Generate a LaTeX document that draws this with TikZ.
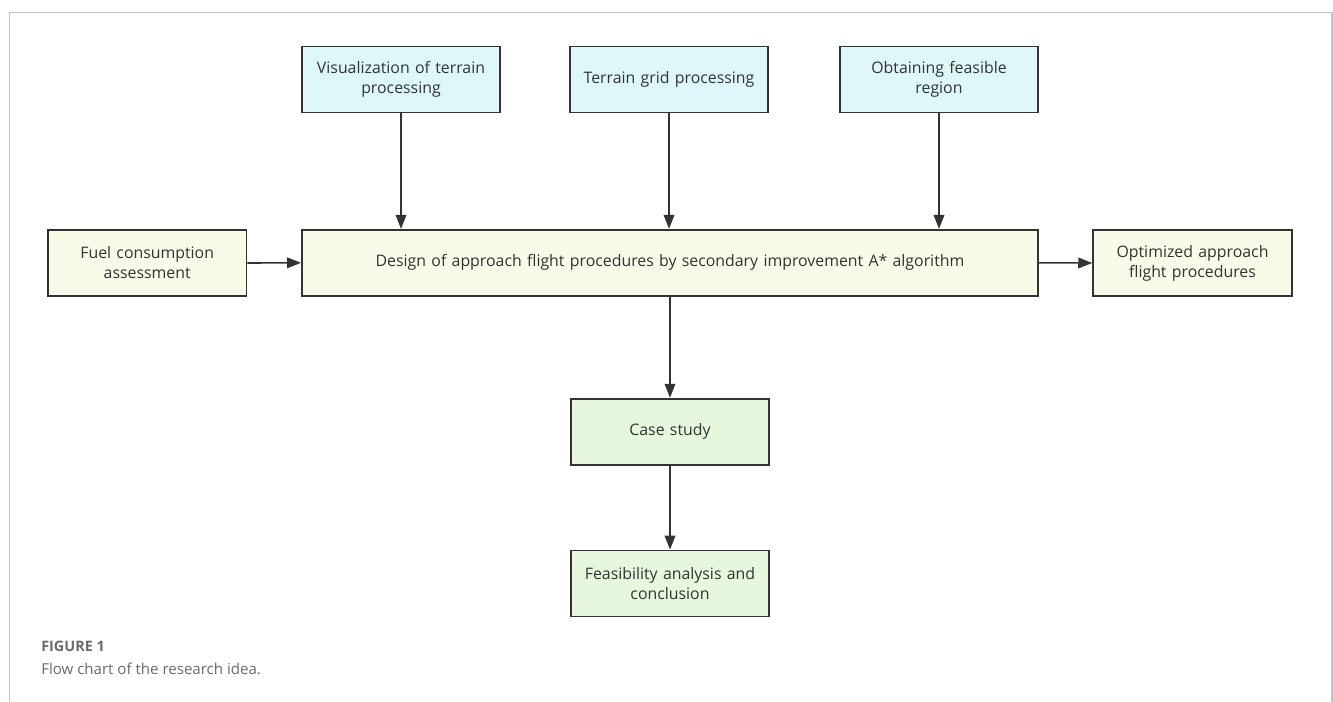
\documentclass[tikz,border=0pt]{standalone}
\usepackage{fontspec}
\setmainfont{Open Sans}
\usetikzlibrary{arrows.meta}
\definecolor{frame}{HTML}{C4C4C4}
\definecolor{edge}{HTML}{333333}
\definecolor{cyanfill}{HTML}{DEF7F9}
\definecolor{yellowfill}{HTML}{F7FBE8}
\definecolor{greenfill}{HTML}{E7F7DE}
\definecolor{captext}{HTML}{6A6A6A}
\definecolor{boxtext}{HTML}{333333}
\tikzset{
  box/.style={draw=edge, line width=1.4pt, minimum height=49.5pt, inner sep=2pt,
    align=center, text=boxtext, font=\fontsize{11.9pt}{15pt}\selectfont},
  topbox/.style={box, fill=cyanfill, minimum width=149pt, text width=145pt},
  sidebox/.style={box, fill=yellowfill, minimum width=149pt, text width=145pt},
  lowbox/.style={box, fill=greenfill, minimum width=149pt, text width=145pt},
  arr/.style={draw=edge, line width=1.2pt, -{Triangle[length=10.5pt,width=8pt]}},
}
\begin{document}
\begin{tikzpicture}[x=0.75pt,y=-0.75pt]
\useasboundingbox (0,0) rectangle (1333,702);
\draw[frame, line width=1pt] (9.5,702) -- (9.5,12.5) -- (1332,12.5) -- (1332,702);
\node[topbox] (vis) at (401,79.5) {Visualization of terrain\\processing};
\node[topbox] (grid) at (669,79.5) {Terrain grid processing};
\node[topbox] (obt) at (939,79.5) {Obtaining feasible\\region};
\node[box, fill=yellowfill, minimum width=552pt, text width=545pt] (main) at (670,262.8) {Design of approach flight procedures by secondary improvement A* algorithm};
\node[sidebox] (fuel) at (147.2,263) {Fuel consumption\\assessment};
\node[sidebox] (opt) at (1192.5,263) {Optimized approach\\flight procedures};
\node[lowbox] (case) at (670,431.7) {Case study};
\node[lowbox] (feas) at (670,583.5) {Feasibility analysis and\\conclusion};
\draw[arr] (vis.south) -- (vis.south |- main.north);
\draw[arr] (grid.south) -- (grid.south |- main.north);
\draw[arr] (obt.south) -- (obt.south |- main.north);
\draw[arr] (fuel.east) -- (main.west);
\draw[arr] (main.east) -- (opt.west);
\draw[arr] (main.south) -- (case.north);
\draw[arr] (case.south) -- (feas.north);
\node[anchor=base west, inner sep=0pt, text=captext, font=\fontsize{10.8pt}{12pt}\selectfont\bfseries] (figlabel) at (41,651) {FIGURE 1};
\node[anchor=base west, inner sep=0pt, text=captext, font=\fontsize{11.3pt}{15pt}\selectfont] (figcap) at (41,674) {Flow chart of the research idea.};
\end{tikzpicture}
\end{document}
